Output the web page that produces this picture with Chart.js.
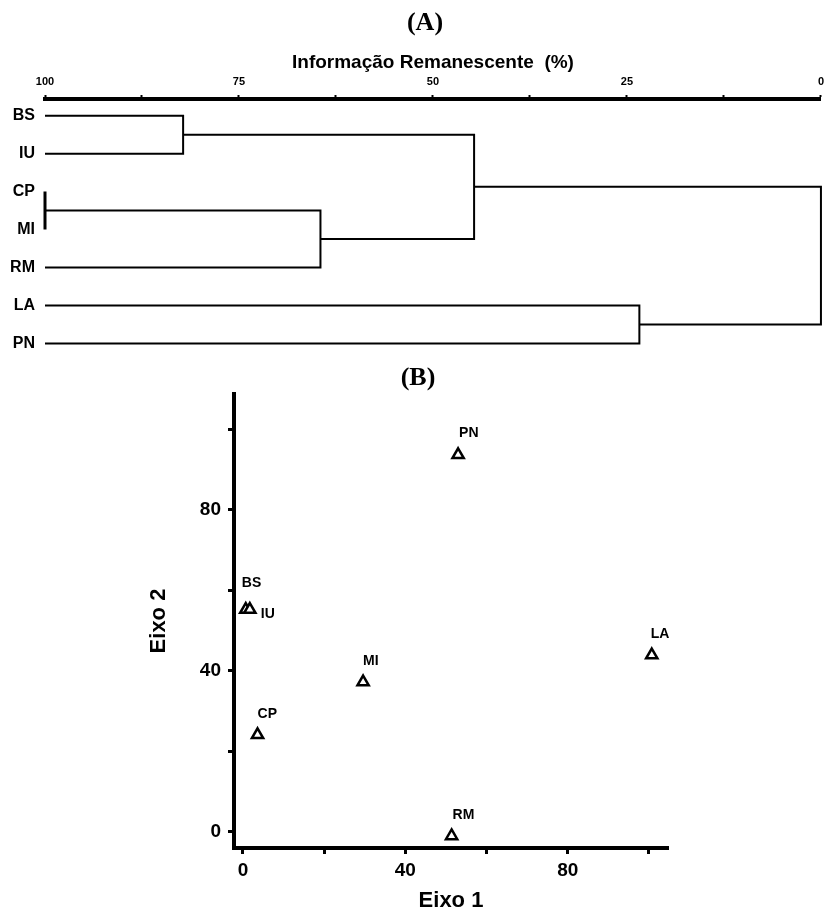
<!DOCTYPE html>
<html>
<head>
<meta charset="utf-8">
<script src="https://cdn.jsdelivr.net/npm/chart.js@4"></script>
<style>
  body { margin: 0; background: #fff; }
  #wrapA { position: absolute; left: 0; top: 0; }
  #wrapB { position: absolute; left: 0; top: 360px; }
</style>
</head>
<body>
<div id="wrapA"><canvas id="dendro" width="830" height="374"></canvas></div>
<div id="wrapB"><canvas id="ordination" width="830" height="555"></canvas></div>
<script>
// (A) agrupamento - folhas e fusões (índices >= 7 são grupos formados)
const leaves = ["BS", "IU", "CP", "MI", "RM", "LA", "PN"];
const joinA = [0, 2, 8, 7, 5, 10];
const joinB = [1, 3, 4, 9, 6, 11];
const joinLevel = [82.2, 100, 64.5, 44.7, 23.4, 0];
const infoTicks = [100, 87.5, 75, 62.5, 50, 37.5, 25, 12.5, 0];

// (B) ordenação
const sites = ["BS", "IU", "CP", "MI", "RM", "LA", "PN"];
const eixo1 = [0.7, 1.7, 3.6, 29.6, 51.4, 100.7, 53.0];
const eixo2 = [55.2, 55.2, 24.1, 37.2, -1.0, 43.9, 93.6];
const axisTicks = [0, 20, 40, 60, 80, 100];

Chart.defaults.font.family = "Arial, 'Liberation Sans', sans-serif";
Chart.defaults.color = "#000";

const letter = {
  id: "letter",
  afterDraw(chart, args, opts) {
    const ctx = chart.ctx;
    ctx.save();
    ctx.font = "bold 26px 'Liberation Serif', 'Times New Roman', serif";
    ctx.fillStyle = "#000";
    ctx.textAlign = "center";
    ctx.textBaseline = "middle";
    ctx.fillText(opts.text, opts.x, opts.y);
    ctx.restore();
  }
};

// montar as linhas do dendrograma a partir das fusões
const nodeX = leaves.map(() => 100);
const nodeY = leaves.map((_, i) => i);
const branches = [];
for (let k = 0; k < joinA.length; k++) {
  const a = joinA[k], b = joinB[k], h = joinLevel[k];
  branches.push({
    data: [
      {x: nodeX[a], y: nodeY[a]},
      {x: h, y: nodeY[a]},
      {x: h, y: nodeY[b]},
      {x: nodeX[b], y: nodeY[b]}
    ],
    showLine: true,
    borderColor: "#000",
    borderWidth: h === 100 ? 3 : 2,
    pointRadius: 0,
    clip: false
  });
  nodeX.push(h);
  nodeY.push((nodeY[a] + nodeY[b]) / 2);
}

new Chart("dendro", {
  type: "scatter",
  data: { datasets: branches },
  plugins: [letter],
  options: {
    responsive: false,
    animation: false,
    layout: { padding: { left: 0, right: 8, top: 0, bottom: 6 } },
    plugins: {
      legend: { display: false },
      tooltip: { enabled: false },
      letter: { text: "(A)", x: 425, y: 23 }
    },
    scales: {
      x: {
        type: "linear",
        position: "top",
        reverse: true,
        min: 0,
        max: 100,
        afterFit: (s) => { s.height = 99; },
        afterBuildTicks: (s) => { s.ticks = infoTicks.map(v => ({value: v})); },
        title: {
          display: true,
          text: "Informação Remanescente  (%)",
          font: { size: 19, weight: "bold" },
          padding: { top: 51, bottom: 0 }
        },
        ticks: {
          font: { size: 11, weight: "bold" },
          padding: 6,
          maxRotation: 0,
          callback: (v) => (v % 25 === 0 ? v : "")
        },
        grid: { drawOnChartArea: false, tickLength: 4, tickWidth: 2, color: "#000" },
        border: { display: true, width: 4, color: "#000" }
      },
      y: {
        type: "linear",
        reverse: true,
        min: -0.44,
        max: 6.29,
        afterFit: (s) => { s.width = 45; },
        afterBuildTicks: (s) => { s.ticks = leaves.map((_, i) => ({value: i})); },
        ticks: {
          font: { size: 16, weight: "bold" },
          padding: 10,
          callback: (v) => leaves[v]
        },
        grid: { display: false, drawTicks: false },
        border: { display: false }
      }
    }
  }
});

// rótulos ao lado de cada ponto
const labelShift = {
  BS: [-4, -26], IU: [11, 5], CP: [0, -21], MI: [0, -21],
  RM: [1, -21], LA: [-1, -21], PN: [1, -22]
};
const pointNames = {
  id: "pointNames",
  afterDatasetsDraw(chart) {
    const ctx = chart.ctx;
    const meta = chart.getDatasetMeta(0);
    ctx.save();
    ctx.font = "bold 14px Arial, 'Liberation Sans', sans-serif";
    ctx.fillStyle = "#000";
    ctx.textAlign = "left";
    ctx.textBaseline = "middle";
    meta.data.forEach((pt, i) => {
      const d = labelShift[sites[i]] || [0, -20];
      ctx.fillText(sites[i], pt.x + d[0], pt.y + d[1]);
    });
    ctx.restore();
  }
};

new Chart("ordination", {
  type: "scatter",
  data: {
    datasets: [{
      data: sites.map((s, i) => ({x: eixo1[i], y: eixo2[i]})),
      pointStyle: "triangle",
      pointRadius: 6.5,
      pointBorderWidth: 2.5,
      pointBackgroundColor: "#fff",
      pointBorderColor: "#000",
      clip: false
    }]
  },
  plugins: [pointNames, letter],
  options: {
    responsive: false,
    animation: false,
    layout: { padding: { left: 0, right: 162, top: 34, bottom: 0 } },
    plugins: {
      legend: { display: false },
      tooltip: { enabled: false },
      letter: { text: "(B)", x: 418, y: 18 }
    },
    scales: {
      x: {
        type: "linear",
        min: -2.2,
        max: 104.7,
        afterFit: (s) => { s.height = 67; },
        afterBuildTicks: (s) => { s.ticks = axisTicks.map(v => ({value: v})); },
        title: {
          display: true,
          text: "Eixo 1",
          font: { size: 22, weight: "bold" },
          padding: { top: 0, bottom: 1 }
        },
        ticks: {
          font: { size: 19, weight: "bold" },
          padding: 5,
          maxRotation: 0,
          callback: (v) => (v % 40 === 0 ? v : "")
        },
        grid: { drawOnChartArea: false, tickLength: 6, tickWidth: 3, color: "#000" },
        border: { width: 4, color: "#000" }
      },
      y: {
        type: "linear",
        min: -4.0,
        max: 108.7,
        afterFit: (s) => { s.width = 234; },
        afterBuildTicks: (s) => { s.ticks = axisTicks.map(v => ({value: v})); },
        title: {
          display: true,
          text: "Eixo 2",
          font: { size: 22, weight: "bold" },
          padding: { top: 146, bottom: 0 }
        },
        ticks: {
          font: { size: 19, weight: "bold" },
          padding: 7,
          callback: (v) => (v % 40 === 0 ? v : "")
        },
        grid: { drawOnChartArea: false, tickLength: 6, tickWidth: 3, color: "#000" },
        border: { width: 4, color: "#000" }
      }
    }
  }
});
</script>
</body>
</html>
